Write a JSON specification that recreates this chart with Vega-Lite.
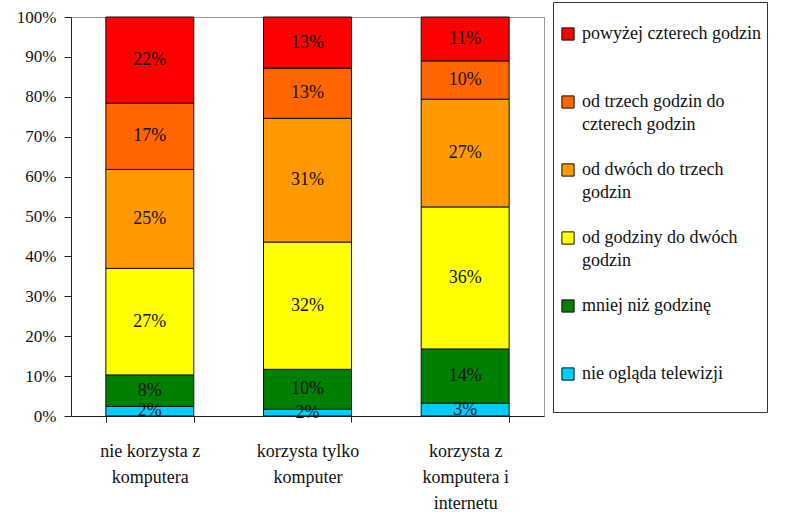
{
  "$schema": "https://vega.github.io/schema/vega-lite/v6.json",
  "autosize": {"type": "none"},
  "width": 473,
  "height": 399,
  "padding": {"left": 71, "top": 17, "right": 266, "bottom": 96},
  "background": "white",
  "config": {
    "view": {"stroke": "#9a9a9a", "strokeWidth": 1},
    "font": "Liberation Serif",
    "style": {"guide-label": {"lineHeight": 23, "font": "Liberation Serif"}}
  },
  "data": {
    "values": [
      {"grupa": "nie korzysta z komputera", "kategoria": "nie ogląda telewizji", "poziom": 0, "udzial": 0.024},
      {"grupa": "nie korzysta z komputera", "kategoria": "mniej niż godzinę", "poziom": 1, "udzial": 0.079},
      {"grupa": "nie korzysta z komputera", "kategoria": "od godziny do dwóch godzin", "poziom": 2, "udzial": 0.267},
      {"grupa": "nie korzysta z komputera", "kategoria": "od dwóch do trzech godzin", "poziom": 3, "udzial": 0.248},
      {"grupa": "nie korzysta z komputera", "kategoria": "od trzech godzin do czterech godzin", "poziom": 4, "udzial": 0.166},
      {"grupa": "nie korzysta z komputera", "kategoria": "powyżej czterech godzin", "poziom": 5, "udzial": 0.216},
      {"grupa": "korzysta tylko komputer", "kategoria": "nie ogląda telewizji", "poziom": 0, "udzial": 0.017},
      {"grupa": "korzysta tylko komputer", "kategoria": "mniej niż godzinę", "poziom": 1, "udzial": 0.100},
      {"grupa": "korzysta tylko komputer", "kategoria": "od godziny do dwóch godzin", "poziom": 2, "udzial": 0.319},
      {"grupa": "korzysta tylko komputer", "kategoria": "od dwóch do trzech godzin", "poziom": 3, "udzial": 0.310},
      {"grupa": "korzysta tylko komputer", "kategoria": "od trzech godzin do czterech godzin", "poziom": 4, "udzial": 0.126},
      {"grupa": "korzysta tylko komputer", "kategoria": "powyżej czterech godzin", "poziom": 5, "udzial": 0.128},
      {"grupa": "korzysta z komputera i internetu", "kategoria": "nie ogląda telewizji", "poziom": 0, "udzial": 0.032},
      {"grupa": "korzysta z komputera i internetu", "kategoria": "mniej niż godzinę", "poziom": 1, "udzial": 0.136},
      {"grupa": "korzysta z komputera i internetu", "kategoria": "od godziny do dwóch godzin", "poziom": 2, "udzial": 0.356},
      {"grupa": "korzysta z komputera i internetu", "kategoria": "od dwóch do trzech godzin", "poziom": 3, "udzial": 0.270},
      {"grupa": "korzysta z komputera i internetu", "kategoria": "od trzech godzin do czterech godzin", "poziom": 4, "udzial": 0.096},
      {"grupa": "korzysta z komputera i internetu", "kategoria": "powyżej czterech godzin", "poziom": 5, "udzial": 0.110}
    ]
  },
  "transform": [
    {"stack": "udzial", "groupby": ["grupa"], "sort": [{"field": "poziom", "order": "ascending"}], "as": ["v0", "v1"]}
  ],
  "encoding": {
    "x": {
      "field": "grupa",
      "type": "nominal",
      "sort": ["nie korzysta z komputera", "korzysta tylko komputer", "korzysta z komputera i internetu"],
      "scale": {"paddingInner": 0.442, "paddingOuter": 0.221},
      "axis": {
        "title": null,
        "labelAngle": 0,
        "labelFont": "Liberation Serif",
        "labelFontSize": 18,
        "labelLineHeight": 26,
        "labelColor": "#111",
        "labelPadding": 20,
        "labelBaseline": "top",
        "tickBand": "extent",
        "tickSize": 6,
        "tickColor": "#222",
        "domain": true,
        "domainColor": "#222",
        "labelExpr": "datum.label == 'nie korzysta z komputera' ? ['nie korzysta z', 'komputera'] : datum.label == 'korzysta tylko komputer' ? ['korzysta tylko', 'komputer'] : datum.label == 'korzysta z komputera i internetu' ? ['korzysta z', 'komputera i', 'internetu'] : ''"
      }
    }
  },
  "layer": [
    {
      "mark": {"type": "bar", "stroke": "#111", "strokeWidth": 1},
      "encoding": {
        "y": {
          "field": "v0",
          "type": "quantitative",
          "scale": {"domain": [0, 1], "nice": false},
          "axis": {
            "title": null,
            "format": ".0%",
            "values": [0, 0.1, 0.2, 0.3, 0.4, 0.5, 0.6, 0.7, 0.8, 0.9, 1],
            "labelOverlap": false,
            "grid": false,
            "labelFont": "Liberation Serif",
            "labelFontSize": 17,
            "labelColor": "#111",
            "labelPadding": 8,
            "tickSize": 7,
            "tickColor": "#222",
            "domainColor": "#222"
          }
        },
        "y2": {"field": "v1"},
        "color": {
          "field": "kategoria",
          "type": "nominal",
          "scale": {
            "domain": ["powyżej czterech godzin", "od trzech godzin do czterech godzin", "od dwóch do trzech godzin", "od godziny do dwóch godzin", "mniej niż godzinę", "nie ogląda telewizji"],
            "range": ["#ff0000", "#ff6600", "#ff9900", "#ffff00", "#008000", "#00ccff"]
          },
          "legend": {
            "title": "\u00a0\u00a0\u00a0\u00a0\u00a0\u00a0\u00a0\u00a0\u00a0\u00a0\u00a0\u00a0\u00a0\u00a0\u00a0\u00a0\u00a0\u00a0\u00a0\u00a0\u00a0\u00a0\u00a0\u00a0\u00a0\u00a0\u00a0\u00a0\u00a0\u00a0\u00a0\u00a0\u00a0\u00a0\u00a0\u00a0\u00a0\u00a0\u00a0\u00a0\u00a0\u00a0\u00a0\u00a0\u00a0\u00a0\u00a0\u00a0\u00a0\u00a0\u00a0\u00a0\u00a0\u00a0\u00a0\u00a0\u00a0\u00a0\u00a0\u00a0\u00a0\u00a0\u00a0\u00a0",
            "titleFont": "Liberation Serif",
            "titleFontSize": 17,
            "titlePadding": 0,
            "titleLimit": 600,
            "orient": "none",
            "legendX": 482,
            "legendY": -15,
            "padding": 6,
            "strokeColor": "#333",
            "fillColor": "white",
            "symbolType": "square",
            "symbolSize": 150,
            "symbolStrokeColor": "#111",
            "symbolStrokeWidth": 1,
            "symbolOpacity": 1,
            "labelFont": "Liberation Serif",
            "labelFontSize": 18,
            "labelColor": "#111",
            "labelLimit": 400,
            "labelOffset": 5,
            "rowPadding": 27,
            "labelExpr": "datum.label == 'od trzech godzin do czterech godzin' ? ['od trzech godzin do', 'czterech godzin'] : datum.label == 'od dwóch do trzech godzin' ? ['od dwóch do trzech', 'godzin'] : datum.label == 'od godziny do dwóch godzin' ? ['od godziny do dwóch', 'godzin'] : [datum.label, '']"
          }
        }
      }
    },
    {
      "transform": [
        {"fold": ["v0", "v1"], "as": ["kraniec", "pozycja"]}
      ],
      "mark": {"type": "text", "font": "Liberation Serif", "fontSize": 18, "color": "#111", "baseline": "middle"},
      "encoding": {
        "y": {
          "aggregate": "mean",
          "field": "pozycja",
          "type": "quantitative",
          "axis": {
            "title": null,
            "format": ".0%",
            "values": [0, 0.1, 0.2, 0.3, 0.4, 0.5, 0.6, 0.7, 0.8, 0.9, 1],
            "labelOverlap": false,
            "grid": false,
            "labelFont": "Liberation Serif",
            "labelFontSize": 17,
            "labelColor": "#111",
            "labelPadding": 8,
            "tickSize": 7,
            "tickColor": "#222",
            "domainColor": "#222"
          }
        },
        "detail": {"field": "kategoria", "type": "nominal"},
        "text": {"aggregate": "max", "field": "udzial", "type": "quantitative", "format": ".0%"}
      }
    }
  ]
}
